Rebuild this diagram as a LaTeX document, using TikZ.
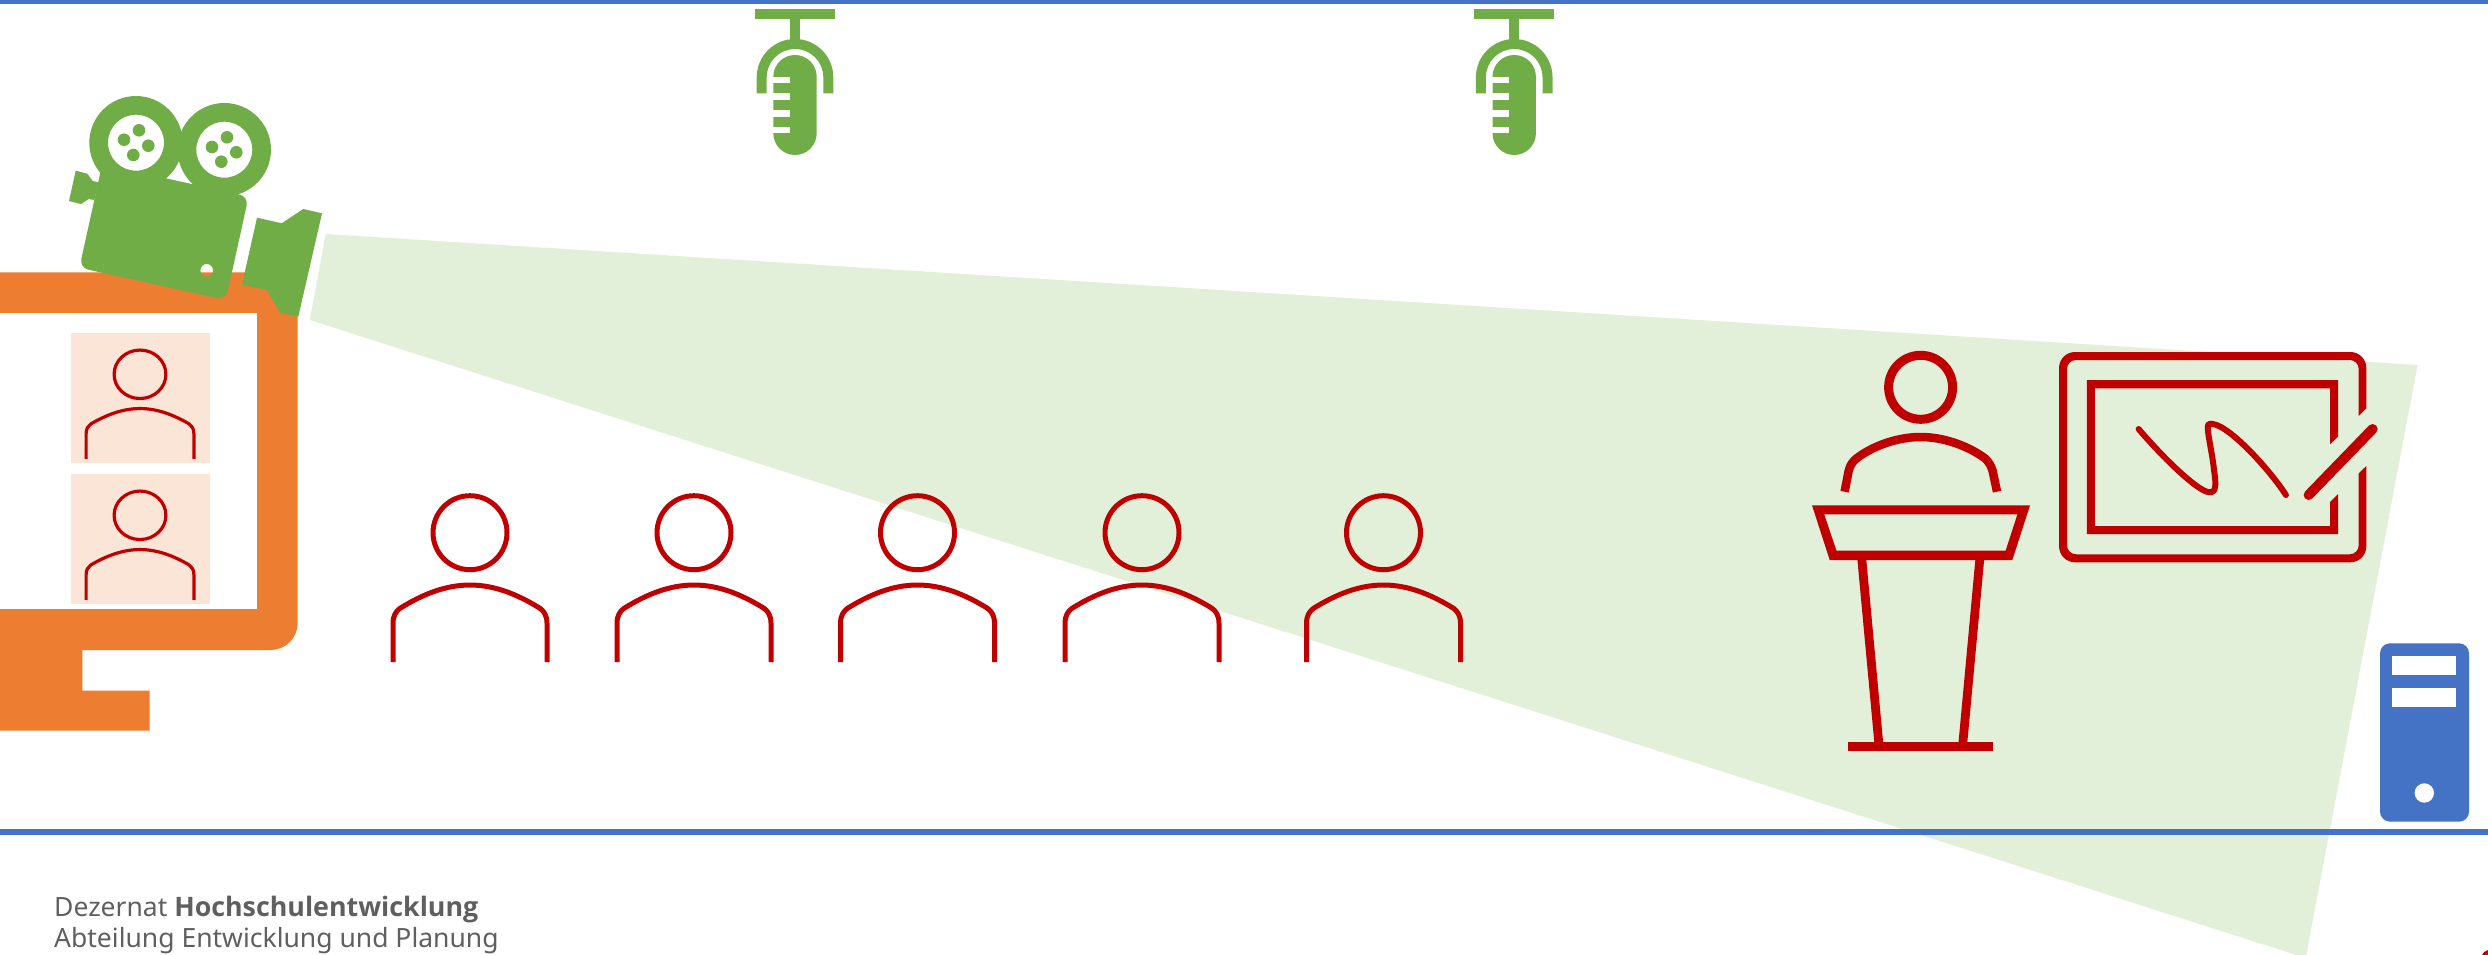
\documentclass[tikz,border=0pt]{standalone}
\usepackage{fontspec}
\setmainfont{Noto Sans}
\newfontfamily\headfont{Open Sans}
\definecolor{cblue}{HTML}{4472C4}
\definecolor{cgreen}{HTML}{70AD47}
\definecolor{cbeam}{HTML}{E2F0D9}
\definecolor{corange}{HTML}{ED7D31}
\definecolor{cpink}{HTML}{FBE5D6}
\definecolor{cred}{HTML}{C00000}
\definecolor{ctext}{HTML}{5F5F5F}
\tikzset{
  rule/.style={fill=cblue},
  redline/.style={draw=cred,line cap=butt,line join=round},
  footer/.style={anchor=base west,inner sep=0pt,text=ctext,font=\fontsize{26.5}{31}\selectfont},
}
\newcommand{\personshape}[5]{% x, y, xscale, yscale, width
  \begin{scope}[shift={(#1,#2)},xscale=#3,yscale=#4]
    \draw[redline,line width=#5] (0,0) circle[radius=37];
    \draw[redline,line width=#5] (-77,129.3) -- (-77,90.6)
      .. controls (-77,83) and (-74,78.5) .. (-70,75.6)
      .. controls (-48,62) and (-25,52.3) .. (0,52.3)
      .. controls (25,52.3) and (48,62) .. (70,75.6)
      .. controls (74,78.5) and (77,83) .. (77,90.6) -- (77,129.3);
  \end{scope}}
\newcommand{\micshape}[1]{%
  \begin{scope}[shift={(#1,0)}]
    \fill[cgreen] (-40,8.7) rectangle (40,18.7);
    \fill[cgreen] (-5,18.7) rectangle (5,42);
    \fill[cgreen] (-38.3,93.3) -- (-38.3,77.3) arc[start angle=180,end angle=360,radius=38.3]
      -- (38.3,93.3) -- (28.3,93.3) -- (28.3,77.3) arc[start angle=360,end angle=180,radius=28.3]
      -- (-28.3,93.3) -- cycle;
    \fill[cgreen] (-21.7,76.7) arc[start angle=180,end angle=360,radius=21.7] -- (21.7,133.3)
      arc[start angle=0,end angle=180,radius=21.7] -- cycle;
    \fill[white] (-22.5,76.7) rectangle (-5,83.3);
    \fill[white] (-22.5,93.3) rectangle (-5,100);
    \fill[white] (-22.5,110) rectangle (-5,116.7);
    \fill[white] (-22.5,126.7) rectangle (-5,133.3);
  \end{scope}}
\begin{document}
\begin{tikzpicture}[x=1pt,y=-1pt]
\useasboundingbox (0,0) rectangle (2488,955);
\begin{scope}
\clip (0,0) rectangle (2488,955);
% beam
\fill[cbeam] (325.7,234) -- (2417.6,365) -- (2305.7,958) -- (309.7,320) -- cycle;
% rules
\fill[rule] (0,0) rectangle (2488,4.3);
\fill[rule] (0,828.5) rectangle (2488,834.5);
% microphones
\micshape{795}
\micshape{1514.2}
% monitor
\fill[corange] (0,272.3) -- (297.7,272.3) -- (297.7,623) arc[start angle=0,end angle=90,radius=27]
  -- (82.3,650) -- (82.3,690.7) -- (149.7,690.7) -- (149.7,730.7) -- (0,730.7) -- cycle;
\fill[white] (0,313) rectangle (257.3,609.3);
\fill[cpink] (71,333) rectangle (210,462.7);
\fill[cpink] (71,474) rectangle (210,603.7);
\personshape{140}{374.3}{0.7}{0.655}{3.2pt}
\personshape{140}{515.3}{0.7}{0.655}{3.2pt}
% audience
\personshape{470}{532.7}{1}{1}{5pt}
\personshape{694}{532.7}{1}{1}{5pt}
\personshape{917.5}{532.7}{1}{1}{5pt}
\personshape{1142}{532.7}{1}{1}{5pt}
\personshape{1383.5}{532.7}{1}{1}{5pt}
% camera
\fill[cgreen,even odd rule] (136,142.7) circle[radius=46.7] (136,142.7) circle[radius=28];
\fill[cgreen,even odd rule] (224.3,149.7) circle[radius=46.7] (224.3,149.7) circle[radius=28];
\foreach \hx/\hy in {139/130.3,148.3/145.7,133.3/155,124/139.7,227/137.3,236.3/152.3,221.3/161.7,212/147}
  \fill[cgreen] (\hx,\hy) circle[radius=6.3];
\fill[cgreen,even odd rule,rounded corners=9] (102.2,164.2) -- (248.6,196.6) -- (225.8,300.1) -- (79.4,267.7) -- cycle
  [sharp corners] (206.7,270.3) circle[radius=6.3];
\fill[cgreen] (75.7,170.7) -- (87.3,173.7) -- (92.7,181) -- (98.7,182.3) -- (94.3,200) -- (88.7,199) -- (81,204) -- (69,201) -- cycle;
\fill[cgreen] (257,217.7) -- (281.7,223.3) -- (303.3,209) -- (322,213.3) -- (298.3,316.7) -- (280,312.7) -- (266.7,290) -- (242,284.7) -- cycle;
% presenter
\draw[redline,line width=9pt] (1920.6,387.3) circle[radius=32];
\draw[redline,line width=8.5pt] (1844.6,491.7) -- (1848.6,471)
  .. controls (1850,465) and (1853,461) .. (1857,458)
  .. controls (1873,446) and (1897,437) .. (1920.6,437)
  .. controls (1944,437) and (1968,446) .. (1984.5,458)
  .. controls (1988,461) and (1991,465) .. (1992.6,471) -- (1997,491.7);
\fill[cred,even odd rule] (1812,505.3) -- (2030,505.3) -- (2012.3,560) -- (1829.7,560) -- cycle
  (1824.2,514.3) -- (2017.4,514.3) -- (2005.6,550.7) -- (1836.4,550.7) -- cycle;
\fill[cred] (1857.4,560) -- (1866.3,560) -- (1883.1,742.3) -- (1874.3,742.3) -- cycle;
\fill[cred] (1975.3,560) -- (1984.1,560) -- (1967.3,742.3) -- (1958.5,742.3) -- cycle;
\fill[cred] (1848.2,742.3) rectangle (1993.4,751.3);
% board
\fill[cred] (2366.3,408.3) [rounded corners=16] -- (2366.3,352) -- (2059,352) -- (2059,562.3) -- (2366.3,562.3)
  [sharp corners] -- (2366.3,466) -- (2358.7,473.3) [rounded corners=9] -- (2358.7,554.3) -- (2067,554.3) -- (2067,360) -- (2358.7,360)
  [sharp corners] -- (2358.7,416) -- cycle;
\fill[cred] (2338,436.7) -- (2338,380) -- (2086.8,380) -- (2086.8,534) -- (2338,534) -- (2338,494) -- (2330,502)
  -- (2330,526) -- (2094.8,526) -- (2094.8,388.3) -- (2330,388.3) -- (2330,444.3) -- cycle;
\draw[draw=cred,line width=10pt,line cap=round] (2308.6,495) -- (2372.6,429);
\draw[draw=cred,line width=6pt,line cap=round,line join=round] (2138.6,429)
  .. controls (2165,460) and (2197,490) .. (2208,492)
  .. controls (2217,494) and (2216,484) .. (2214,470)
  .. controls (2212,450) and (2205,425) .. (2209,424)
  .. controls (2225,420) and (2270,470) .. (2285.9,495);
% server
\fill[cblue,rounded corners=10] (2380,643.3) rectangle (2469,821.7);
\fill[white] (2392.3,656) rectangle (2456.3,675.3);
\fill[white] (2392.3,688) rectangle (2456.3,707);
\fill[white] (2424.3,793) circle[radius=9.7];
% corner mark
\fill[cred] (2482,955) -- (2484,952) -- (2488,950) -- (2488,955) -- cycle;
\end{scope}
% footer
\node[footer] (line1) at (54,916) {Dezernat {\headfont\bfseries\fontsize{26.8}{31}\selectfont Hochschulentwicklung}};
\node[footer] (line2) at (54,947) {Abteilung Entwicklung und Planung};
\end{tikzpicture}
\end{document}
